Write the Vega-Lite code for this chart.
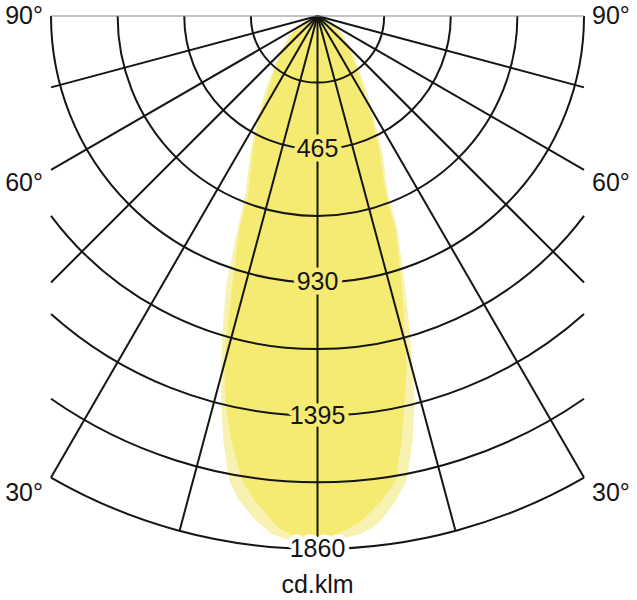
{
  "$schema": "https://vega.github.io/schema/vega-lite/v6.json",
  "width": 637,
  "height": 600,
  "padding": 0,
  "autosize": {"type": "none"},
  "background": "white",
  "config": {"view": {"stroke": null}},
  "datasets": {
    "light": [
      {"d": 0, "l": 0, "r": 0},
      {"d": 21, "l": -49, "r": 46},
      {"d": 59, "l": -94, "r": 84},
      {"d": 119, "l": -126, "r": 119},
      {"d": 248, "l": -178, "r": 168},
      {"d": 364, "l": -213, "r": 199},
      {"d": 479, "l": -234, "r": 227},
      {"d": 619, "l": -252, "r": 245},
      {"d": 748, "l": -280, "r": 280},
      {"d": 934, "l": -318, "r": 304},
      {"d": 1098, "l": -332, "r": 322},
      {"d": 1227, "l": -336, "r": 332},
      {"d": 1343, "l": -336, "r": 339},
      {"d": 1482, "l": -329, "r": 332},
      {"d": 1622, "l": -308, "r": 311},
      {"d": 1692, "l": -273, "r": 273},
      {"d": 1762, "l": -213, "r": 220},
      {"d": 1787, "l": -182, "r": 189},
      {"d": 1808, "l": -160, "r": 150},
      {"d": 1824, "l": -115, "r": 80},
      {"d": 1832, "l": -60, "r": 30}
    ],
    "bright": [
      {"d": 0, "l": 0, "r": 0},
      {"d": 21, "l": -45, "r": 42},
      {"d": 59, "l": -87, "r": 77},
      {"d": 119, "l": -119, "r": 112},
      {"d": 164, "l": -143, "r": 129},
      {"d": 248, "l": -168, "r": 157},
      {"d": 364, "l": -206, "r": 192},
      {"d": 479, "l": -227, "r": 217},
      {"d": 619, "l": -241, "r": 238},
      {"d": 748, "l": -273, "r": 273},
      {"d": 934, "l": -297, "r": 294},
      {"d": 1098, "l": -315, "r": 304},
      {"d": 1227, "l": -325, "r": 311},
      {"d": 1343, "l": -322, "r": 304},
      {"d": 1482, "l": -301, "r": 294},
      {"d": 1622, "l": -262, "r": 273},
      {"d": 1692, "l": -220, "r": 224},
      {"d": 1717, "l": -196, "r": 199},
      {"d": 1762, "l": -161, "r": 154},
      {"d": 1787, "l": -133, "r": 112},
      {"d": 1808, "l": -98, "r": 66},
      {"d": 1822, "l": -45, "r": 14}
    ],
    "circles": [
      {"cx": 0, "cy": 0, "v": 232.5, "a0": 90, "a1": 270},
      {"cx": 0, "cy": 0, "v": 465, "a0": 90, "a1": 270},
      {"cx": 0, "cy": 0, "v": 697.5, "a0": 90, "a1": 270},
      {"cx": 0, "cy": 0, "v": 930, "a0": 90, "a1": 270},
      {"cx": 0, "cy": 0, "v": 1162.5, "a0": 126.87, "a1": 233.13},
      {"cx": 0, "cy": 0, "v": 1395, "a0": 138.19, "a1": 221.81},
      {"cx": 0, "cy": 0, "v": 1627.5, "a0": 145.15, "a1": 214.85},
      {"cx": 0, "cy": 0, "v": 1860, "a0": 150, "a1": 210}
    ],
    "spokes": [
      {"a": 0, "sx": 0, "sy": 0, "ex": 0, "ey": 1860},
      {"a": 15, "sx": 0, "sy": 0, "ex": 481.4, "ey": 1796.6},
      {"a": -15, "sx": 0, "sy": 0, "ex": -481.4, "ey": 1796.6},
      {"a": 30, "sx": 0, "sy": 0, "ex": 930, "ey": 1610.8},
      {"a": -30, "sx": 0, "sy": 0, "ex": -930, "ey": 1610.8},
      {"a": 45, "sx": 0, "sy": 0, "ex": 930, "ey": 930},
      {"a": -45, "sx": 0, "sy": 0, "ex": -930, "ey": 930},
      {"a": 60, "sx": 0, "sy": 0, "ex": 930, "ey": 536.9},
      {"a": -60, "sx": 0, "sy": 0, "ex": -930, "ey": 536.9},
      {"a": 75, "sx": 0, "sy": 0, "ex": 930, "ey": 249.2},
      {"a": -75, "sx": 0, "sy": 0, "ex": -930, "ey": 249.2},
      {"a": 90, "sx": 0, "sy": 0, "ex": 930, "ey": 0},
      {"a": -90, "sx": 0, "sy": 0, "ex": -930, "ey": 0}
    ],
    "rlabels": [
      {"x": 0, "v": 465},
      {"x": 0, "v": 930},
      {"x": 0, "v": 1395},
      {"x": 0, "v": 1860}
    ],
    "alabels": [
      {"t": "90°", "x": -1024, "y": 0},
      {"t": "90°", "x": 1024, "y": 0},
      {"t": "60°", "x": -1024, "y": 583},
      {"t": "60°", "x": 1024, "y": 583},
      {"t": "30°", "x": -1024, "y": 1665},
      {"t": "30°", "x": 1024, "y": 1665},
      {"t": "cd.klm", "x": 0, "y": 1986}
    ]
  },
  "layer": [
    {
      "data": {"name": "light"},
      "mark": {"type": "area", "orient": "horizontal", "color": "#F8F2B2"},
      "encoding": {
        "y": {"field": "d", "type": "quantitative", "scale": {"domain": [-55.8, 2038], "reverse": true, "nice": false, "zero": false}, "axis": null},
        "x": {"field": "l", "type": "quantitative", "scale": {"domain": [-1108, 1114.9], "nice": false, "zero": false}, "axis": null},
        "x2": {"field": "r"}
      }
    },
    {
      "data": {"name": "bright"},
      "mark": {"type": "area", "orient": "horizontal", "color": "#F5EA72"},
      "encoding": {
        "y": {"field": "d", "type": "quantitative"},
        "x": {"field": "l", "type": "quantitative"},
        "x2": {"field": "r"}
      }
    },
    {
      "data": {"name": "circles"},
      "mark": {"type": "arc", "filled": false, "stroke": "#151515", "strokeWidth": 2},
      "encoding": {
        "x": {"field": "cx", "type": "quantitative"},
        "y": {"field": "cy", "type": "quantitative"},
        "theta": {"field": "a0", "type": "quantitative", "scale": {"domain": [0, 360], "range": [0, 6.283185307179586]}},
        "theta2": {"field": "a1"},
        "radius": {"field": "v", "type": "quantitative", "scale": {"type": "linear", "domain": [0, 1860], "range": [0, 533], "zero": true}},
        "radius2": {"field": "v"}
      }
    },
    {
      "data": {"name": "spokes"},
      "transform": [{"filter": "abs(datum.a) < 90"}],
      "mark": {"type": "rule", "stroke": "#151515", "strokeWidth": 2},
      "encoding": {
        "x": {"field": "sx", "type": "quantitative"},
        "y": {"field": "sy", "type": "quantitative"},
        "x2": {"field": "ex"},
        "y2": {"field": "ey"}
      }
    },
    {
      "data": {"name": "spokes"},
      "transform": [{"filter": "abs(datum.a) == 90"}],
      "mark": {"type": "rule", "stroke": "#888888", "strokeWidth": 1},
      "encoding": {
        "x": {"field": "sx", "type": "quantitative"},
        "y": {"field": "sy", "type": "quantitative"},
        "x2": {"field": "ex"},
        "y2": {"field": "ey"}
      }
    },
    {
      "data": {"name": "rlabels"},
      "mark": {"type": "text", "font": "Liberation Sans", "fontSize": 25, "strokeWidth": 9, "strokeJoin": "round", "align": "center", "baseline": "middle"},
      "encoding": {
        "x": {"field": "x", "type": "quantitative"},
        "y": {"field": "v", "type": "quantitative"},
        "text": {"field": "v", "type": "quantitative", "format": "d"},
        "stroke": {"condition": {"test": "datum.v == 1860", "value": "white"}, "value": "#F5EA72"},
        "fill": {"condition": {"test": "datum.v == 1860", "value": "white"}, "value": "#F5EA72"}
      }
    },
    {
      "data": {"name": "rlabels"},
      "mark": {"type": "text", "font": "Liberation Sans", "fontSize": 25, "align": "center", "baseline": "middle", "color": "#151515"},
      "encoding": {
        "x": {"field": "x", "type": "quantitative"},
        "y": {"field": "v", "type": "quantitative"},
        "text": {"field": "v", "type": "quantitative", "format": "d"}
      }
    },
    {
      "data": {"name": "alabels"},
      "mark": {"type": "text", "font": "Liberation Sans", "fontSize": 25, "align": "center", "baseline": "middle", "color": "#151515"},
      "encoding": {
        "x": {"field": "x", "type": "quantitative"},
        "y": {"field": "y", "type": "quantitative"},
        "text": {"field": "t"}
      }
    }
  ]
}
